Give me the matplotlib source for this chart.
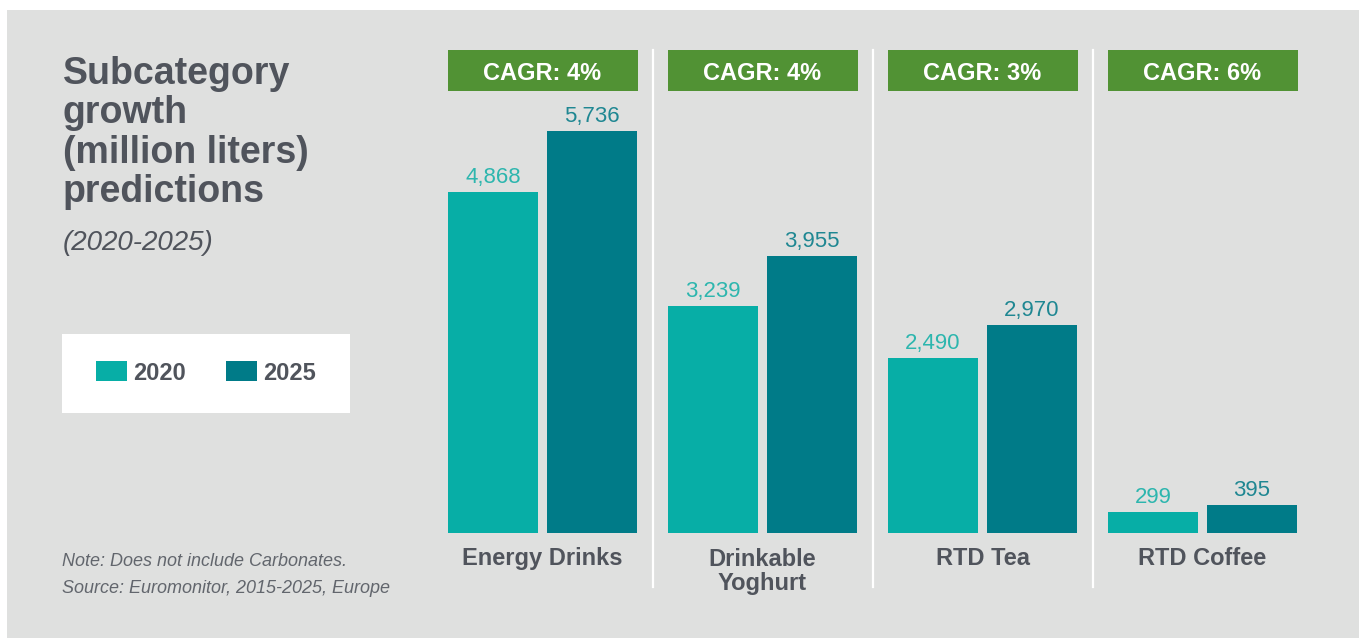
import matplotlib
matplotlib.use("Agg")
import matplotlib.pyplot as plt
import matplotlib.transforms as mtransforms
from matplotlib.patches import Rectangle
import numpy as np

plt.rcParams['font.family'] = ['Liberation Sans', 'DejaVu Sans']

# ---- data ----
categories = ["Energy Drinks", "Drinkable\nYoghurt", "RTD Tea", "RTD Coffee"]
values_2020 = [4868, 3239, 2490, 299]
values_2025 = [5736, 3955, 2970, 395]
cagr_labels = ["CAGR: 4%", "CAGR: 4%", "CAGR: 3%", "CAGR: 6%"]
series_names = ["2020", "2025"]

# ---- styles ----
W, H = 1359, 638
BG = "#dfe0df"
C2020 = "#07aea6"
C2025 = "#007b88"
L2020 = "#2db6ae"
L2025 = "#1f8792"
GREEN = "#519234"
TXT = "#50545c"
NOTE = "#62666d"

fig = plt.figure(figsize=(W / 100, H / 100), dpi=100)
fig.patch.set_facecolor("white")

def fx(px):
    return px / W

def fy(py):
    return 1 - py / H

# gray panel
fig.patches.append(Rectangle((fx(7), 0), 1 - fx(7), fy(10), transform=fig.transFigure,
                             facecolor=BG, edgecolor="none", zorder=-10))

# axes: x from 432.5 to 1312.5 px, y from 533 (bottom) to 50 (top)
ax_left, ax_right, ax_bottom, ax_top = 432.5, 1312.5, 533, 50
ax = fig.add_axes([fx(ax_left), fy(ax_bottom), fx(ax_right - ax_left), (ax_bottom - ax_top) / H])
ax.set_facecolor("none")
for s in ax.spines.values():
    s.set_visible(False)
ax.set_xticks([])
ax.set_yticks([])

px_per_unit = 402 / 5736.0
ymax = (ax_bottom - ax_top) / px_per_unit
ax.set_xlim(-0.5, len(categories) - 0.5)
ax.set_ylim(0, ymax)

x = np.arange(len(categories))
bw = 90 / 220
off = 49.5 / 220
b1 = ax.bar(x - off, values_2020, width=bw, color=C2020, label=series_names[0], zorder=3)
b2 = ax.bar(x + off, values_2025, width=bw, color=C2025, label=series_names[1], zorder=3)

for rect, v in zip(b1, values_2020):
    ax.annotate(f"{v:,}", (rect.get_x() + rect.get_width() / 2, rect.get_height()),
                xytext=(0, 6.5), textcoords="offset points", ha="center", va="baseline",
                fontsize=16, color=L2020)
for rect, v in zip(b2, values_2025):
    ax.annotate(f"{v:,}", (rect.get_x() + rect.get_width() / 2, rect.get_height()),
                xytext=(0, 6.5), textcoords="offset points", ha="center", va="baseline",
                fontsize=16, color=L2025)

trans = mtransforms.blended_transform_factory(ax.transData, ax.transAxes)
axh = ax_bottom - ax_top

# CAGR boxes
box_w = 190 / 220
box_h = 41 / axh
for i, lab in enumerate(cagr_labels):
    ax.add_patch(Rectangle((i - box_w / 2, 1 - box_h), box_w, box_h, transform=trans,
                           facecolor=GREEN, edgecolor="none", clip_on=False, zorder=4))
    ax.text(i, 1 - box_h / 2, lab, transform=trans, ha="center", va="center_baseline",
            fontsize=17, fontweight="bold", color="white", zorder=5)

# separators
for sx in [0.5, 1.5, 2.5]:
    ax.plot([sx, sx], [1, (ax_bottom - 587) / axh], transform=trans, color="white",
            lw=1.6, clip_on=False, zorder=2)

# category labels (baseline = last line baseline)
for i, c in enumerate(categories):
    nlines = c.count("\n") + 1
    base = 565 + 25 * (nlines - 1)
    ax.text(i, (ax_bottom - base) / axh, c, transform=trans, ha="center", va="baseline",
            fontsize=17, fontweight="bold", color=TXT, linespacing=1.08)

# title (baseline of last line)
fig.text(fx(63), fy(202), "Subcategory\ngrowth\n(million liters)\npredictions",
         ha="left", va="baseline", fontsize=27, fontweight="bold", color=TXT,
         linespacing=1.12)
fig.text(fx(63), fy(250), "(2020-2025)", ha="left", va="baseline", fontsize=20,
         style="italic", color=TXT)

# legend box
fig.patches.append(Rectangle((fx(62), fy(413)), fx(350 - 62), (413 - 334) / H,
                             transform=fig.transFigure, facecolor="white",
                             edgecolor="none", zorder=1))
leg = fig.legend(handles=[b1, b2], labels=series_names, loc="center",
                 bbox_to_anchor=(fx(206), fy(373)), ncol=2, frameon=False,
                 prop={'size': 17, 'weight': 'bold'}, handlelength=1.31,
                 handleheight=0.93, handletextpad=0.25, columnspacing=1.7)
for t in leg.get_texts():
    t.set_color(TXT)

# notes
fig.text(fx(62), fy(566), "Note: Does not include Carbonates.", ha="left", va="baseline",
         fontsize=13, style="italic", color=NOTE)
fig.text(fx(62), fy(593), "Source: Euromonitor, 2015-2025, Europe", ha="left", va="baseline",
         fontsize=13, style="italic", color=NOTE)

fig.savefig("out.png", dpi=100, facecolor=fig.get_facecolor())
